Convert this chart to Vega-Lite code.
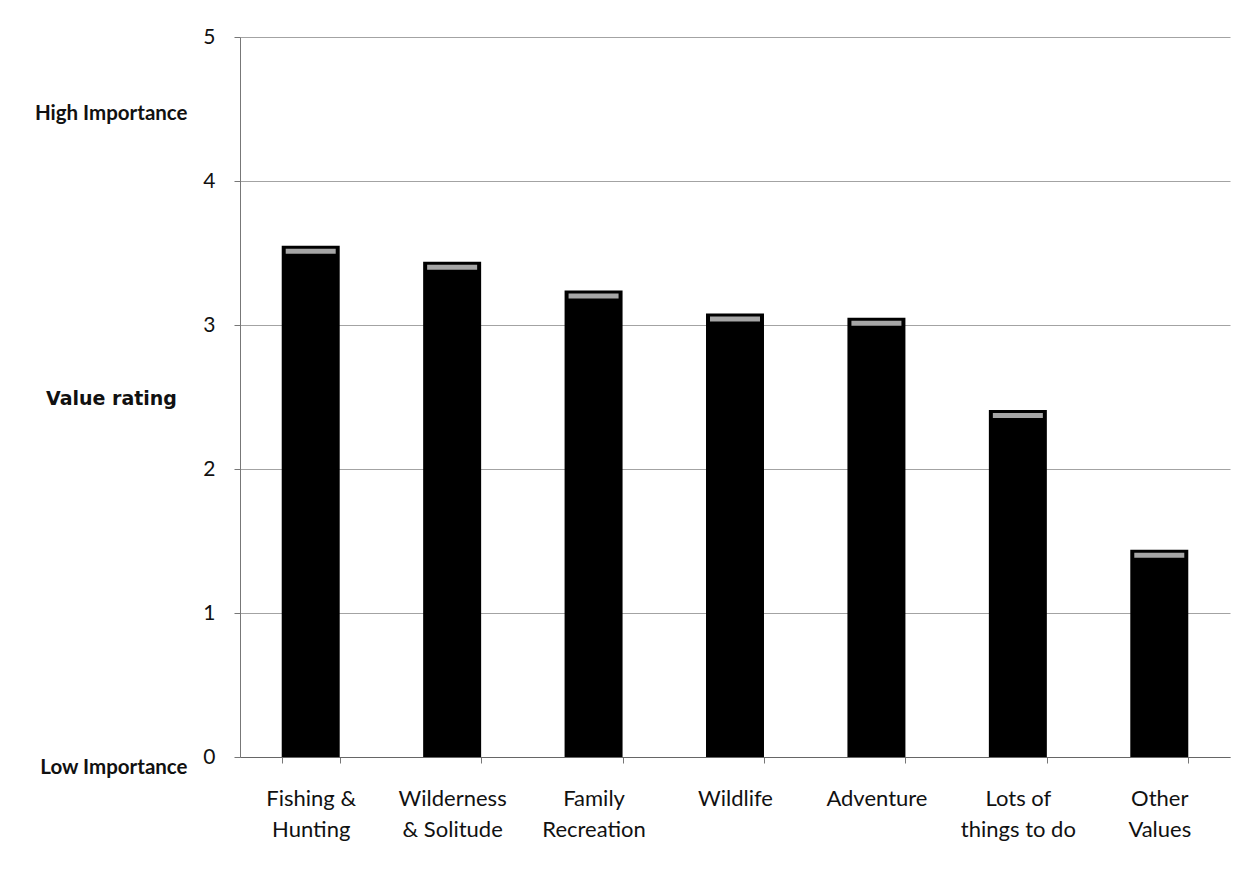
{
  "$schema": "https://vega.github.io/schema/vega-lite/v6.json",
  "width": 990,
  "height": 720,
  "autosize": {"type": "none"},
  "padding": {"left": 240, "top": 37, "right": 27, "bottom": 114},
  "background": "white",
  "config": {
    "view": {"stroke": null},
    "font": "Lato"
  },
  "data": {
    "values": [
      {"value": "Fishing & Hunting", "rating": 3.55},
      {"value": "Wilderness & Solitude", "rating": 3.44},
      {"value": "Family Recreation", "rating": 3.24},
      {"value": "Wildlife", "rating": 3.08},
      {"value": "Adventure", "rating": 3.05},
      {"value": "Lots of things to do", "rating": 2.41},
      {"value": "Other Values", "rating": 1.44}
    ]
  },
  "encoding": {
    "x": {
      "field": "value",
      "type": "nominal",
      "sort": null,
      "scale": {"paddingInner": 0.59, "paddingOuter": 0.295},
      "axis": {
        "title": null,
        "labelAngle": 0,
        "labelFont": "Lato",
        "labelFontSize": 22,
        "labelColor": "#111",
        "labelLineHeight": 31,
        "labelBaseline": "top",
        "labelPadding": 25,
        "labelExpr": "datum.label == 'Fishing & Hunting' ? ['Fishing &', 'Hunting'] : datum.label == 'Wilderness & Solitude' ? ['Wilderness', '& Solitude'] : datum.label == 'Family Recreation' ? ['Family', 'Recreation'] : datum.label == 'Lots of things to do' ? ['Lots of', 'things to do'] : datum.label == 'Other Values' ? ['Other', 'Values'] : datum.label",
        "tickBand": "extent",
        "tickSize": 6,
        "tickColor": "#777",
        "domainColor": "#666",
        "labelLimit": 300
      }
    }
  },
  "layer": [
    {
      "mark": {"type": "bar", "color": "#000"},
      "encoding": {
        "y": {
          "field": "rating",
          "type": "quantitative",
          "scale": {"domain": [0, 5], "nice": false},
          "axis": {
            "title": null,
            "values": [0, 1, 2, 3, 4, 5],
            "labelFont": "Lato",
            "labelFontSize": 21,
            "labelColor": "#111",
            "labelPadding": 19,
            "tickSize": 6,
            "tickColor": "#777",
            "domainColor": "#777",
            "grid": true,
            "gridColor": "#a3a3a3",
            "gridWidth": 1
          }
        }
      }
    },
    {
      "mark": {"type": "tick", "color": "#ececec", "thickness": 5, "size": 50, "yOffset": 5.5},
      "encoding": {
        "y": {
          "field": "rating",
          "type": "quantitative",
          "axis": {
            "orient": "left",
            "values": [4.47, 0],
            "labelExpr": "datum.value == 0 ? 'Low Importance' : 'High Importance'",
            "labelBaseline": {"condition": {"test": "datum.value == 0", "value": "top"}, "value": "middle"},
            "labelFont": "Lato",
            "labelFontSize": 20.5,
            "labelFontWeight": "bold",
            "labelColor": "#111",
            "labelPadding": 53,
            "ticks": false,
            "tickSize": 0,
            "domain": false,
            "grid": false,
            "title": "Value rating",
            "titleAngle": 0,
            "titleX": -129,
            "titleY": 361,
            "titleAlign": "center",
            "titleBaseline": "middle",
            "titleFont": "DejaVu Sans",
            "titleFontSize": 19,
            "titleFontWeight": "bold",
            "titleColor": "#111"
          }
        }
      }
    }
  ],
  "resolve": {"axis": {"y": "independent"}}
}
